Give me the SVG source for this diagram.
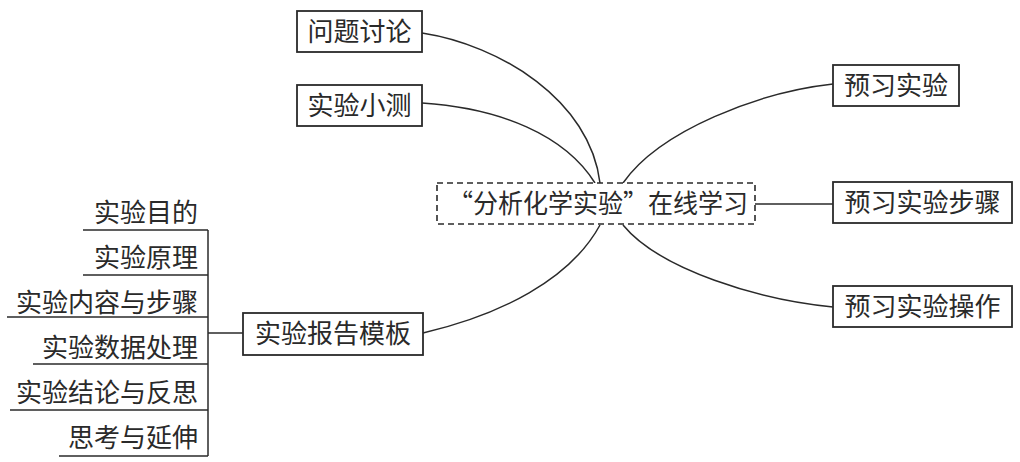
<svg xmlns="http://www.w3.org/2000/svg" width="1020" height="462" viewBox="0 0 1020 462">
<style>
.box{fill:#fff;stroke:#2a2a2a;stroke-width:1.8}
.dash{fill:#fff;stroke:#2a2a2a;stroke-width:1.6;stroke-dasharray:6 4}
.t{font-family:"Noto Sans CJK SC","Noto Sans",sans-serif;font-size:26px;fill:#2a2a2a}
.c{text-anchor:middle}
.r{text-anchor:end}
.ln{fill:none;stroke:#2a2a2a;stroke-width:1.5}
</style>
<rect width="1020" height="462" fill="#fff"/>
<g id="connectors">
<path class="ln" d="M422,33 C500,45 590,100 600,183"/>
<path class="ln" d="M422,103 C500,108 565,135 595,183"/>
<path class="ln" d="M623,183 C660,130 760,92 833,84"/>
<path class="ln" d="M755,204 L833,204"/>
<path class="ln" d="M623,225 C660,270 760,300 833,307"/>
<path class="ln" d="M423,333 C500,315 570,280 600,225"/>
<path class="ln" d="M208,333 L243,333"/>
<path class="ln" d="M208,230 L208,456"/>
<path class="ln" d="M83,230 L208,230"/>
<path class="ln" d="M83,275 L208,275"/>
<path class="ln" d="M7,317 L208,317"/>
<path class="ln" d="M33,364 L208,364"/>
<path class="ln" d="M10,410 L208,410"/>
<path class="ln" d="M59,456 L208,456"/>
</g>
<g id="center">
<rect class="dash" x="437" y="183" width="318" height="41"/>
<text class="t c" x="598" y="213" textLength="300" lengthAdjust="spacingAndGlyphs">“分析化学实验”在线学习</text>
</g>
<g id="n-wenti">
<rect class="box" x="297" y="11" width="125" height="41"/>
<text class="t c" x="359.5" y="41">问题讨论</text>
</g>
<g id="n-xiaoce">
<rect class="box" x="297" y="85" width="125" height="41"/>
<text class="t c" x="359.5" y="115">实验小测</text>
</g>
<g id="n-yuxi">
<rect class="box" x="833" y="65" width="126" height="41"/>
<text class="t c" x="896" y="95">预习实验</text>
</g>
<g id="n-buzhou">
<rect class="box" x="833" y="182" width="179" height="41"/>
<text class="t c" x="922.5" y="212">预习实验步骤</text>
</g>
<g id="n-caozuo">
<rect class="box" x="833" y="286" width="179" height="41"/>
<text class="t c" x="922.5" y="316">预习实验操作</text>
</g>
<g id="n-baogao">
<rect class="box" x="243" y="313" width="180" height="42"/>
<text class="t c" x="333" y="343">实验报告模板</text>
</g>
<g id="n-mudi"><text class="t r" x="198" y="222">实验目的</text></g>
<g id="n-yuanli"><text class="t r" x="198" y="267">实验原理</text></g>
<g id="n-neirong"><text class="t r" x="198" y="312">实验内容与步骤</text></g>
<g id="n-shuju"><text class="t r" x="198" y="357">实验数据处理</text></g>
<g id="n-jielun"><text class="t r" x="198" y="402">实验结论与反思</text></g>
<g id="n-sikao"><text class="t r" x="198" y="447">思考与延伸</text></g>
</svg>
